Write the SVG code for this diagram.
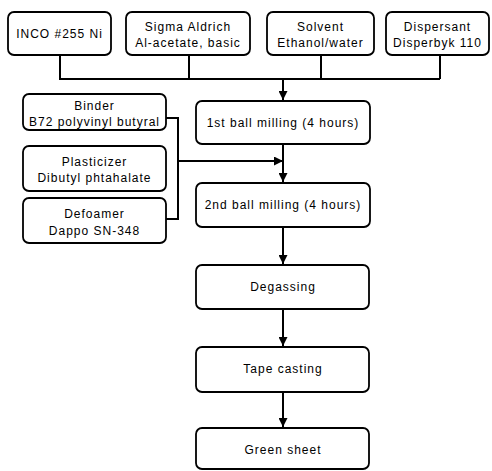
<svg xmlns="http://www.w3.org/2000/svg" width="492" height="471" viewBox="0 0 492 471">
<style>
.box{fill:#fff;stroke:#000;stroke-width:1.8}
.t{font-family:"Liberation Sans",Arial,sans-serif;font-size:12px;text-anchor:middle;fill:#000;letter-spacing:1px}
.c{fill:none;stroke:#000;stroke-width:2}
</style>
<defs>
<marker id="ah" markerWidth="9" markerHeight="9" refX="9" refY="4.5" orient="auto" markerUnits="userSpaceOnUse">
<path d="M0,0 L9,4.5 L0,9 Z" fill="#000"/>
</marker>
</defs>
<rect width="492" height="471" fill="#fff"/>
<g id="connectors">
<path class="c" d="M60,55 V79 H440 M189,55 V79 M321,55 V79 M440,55 V79"/>
<path class="c" d="M283,79 V100" marker-end="url(#ah)"/>
<path class="c" d="M166,118 H178 V219 H166"/>
<path class="c" d="M178,161 H283" marker-end="url(#ah)"/>
<path class="c" d="M283,144 V182" marker-end="url(#ah)"/>
<path class="c" d="M283,227 V264" marker-end="url(#ah)"/>
<path class="c" d="M283,309 V346" marker-end="url(#ah)"/>
<path class="c" d="M283,392 V427" marker-end="url(#ah)"/>
</g>
<g id="inco"><rect class="box" x="8" y="12" width="103" height="43" rx="6"/><text class="t" x="59.5" y="38">INCO #255 Ni</text></g>
<g id="sigma"><rect class="box" x="126" y="12" width="124" height="43" rx="6"/><text class="t" x="188" y="31">Sigma Aldrich</text><text class="t" x="188" y="47">Al-acetate, basic</text></g>
<g id="solvent"><rect class="box" x="267" y="12" width="107" height="43" rx="6"/><text class="t" x="320.5" y="31">Solvent</text><text class="t" x="320.5" y="47">Ethanol/water</text></g>
<g id="dispersant"><rect class="box" x="386" y="12" width="103" height="43" rx="6"/><text class="t" x="437.5" y="31">Dispersant</text><text class="t" x="437.5" y="47">Disperbyk 110</text></g>
<g id="binder"><rect class="box" x="23" y="94" width="143" height="36" rx="6"/><text class="t" x="94.5" y="110">Binder</text><text class="t" x="94.5" y="126">B72 polyvinyl butyral</text></g>
<g id="plasticizer"><rect class="box" x="23" y="146" width="143" height="45" rx="6"/><text class="t" x="94.5" y="166">Plasticizer</text><text class="t" x="94.5" y="182">Dibutyl phtahalate</text></g>
<g id="defoamer"><rect class="box" x="23" y="198" width="143" height="45" rx="6"/><text class="t" x="94.5" y="218">Defoamer</text><text class="t" x="94.5" y="235">Dappo SN-348</text></g>
<g id="mill1"><rect class="box" x="196" y="101" width="174" height="43" rx="6"/><text class="t" x="283" y="127">1st ball milling (4 hours)</text></g>
<g id="mill2"><rect class="box" x="196" y="183" width="174" height="44" rx="6"/><text class="t" x="283" y="209">2nd ball milling (4 hours)</text></g>
<g id="degassing"><rect class="box" x="196" y="265" width="173" height="44" rx="6"/><text class="t" x="283" y="291">Degassing</text></g>
<g id="tape"><rect class="box" x="196" y="347" width="173" height="45" rx="6"/><text class="t" x="283" y="373">Tape casting</text></g>
<g id="green"><rect class="box" x="196" y="428" width="173" height="41" rx="6"/><text class="t" x="283" y="454">Green sheet</text></g>
</svg>
